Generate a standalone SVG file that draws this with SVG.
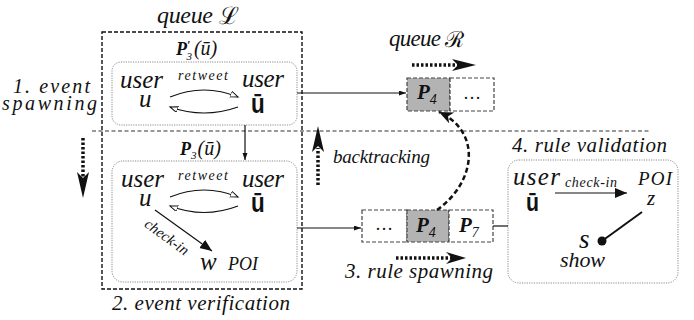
<svg xmlns="http://www.w3.org/2000/svg" width="694" height="320" viewBox="0 0 694 320">
<style>
.t{font-family:'Liberation Serif',serif;font-style:italic;fill:#111}
.r{font-family:'Liberation Serif',serif;font-style:normal;fill:#111}
.b{font-weight:bold}
.ub{font-family:'Liberation Sans',sans-serif;font-weight:bold;font-style:normal;fill:#111}
.outer{fill:none;stroke:#111;stroke-width:1.4;stroke-dasharray:4 2}
.inner{fill:#fff;stroke:#8a8a8a;stroke-width:1;stroke-dasharray:1.2 1.2}
.qbox{fill:#fff;stroke:#444;stroke-width:1.2;stroke-dasharray:4 2}
.gray{fill:#b3b3b3}
.sep{stroke:#333;stroke-width:1;stroke-dasharray:4 2.5}
.ln{fill:none;stroke:#111;stroke-width:1.2}
.dot{fill:none;stroke:#111;stroke-width:3.5;stroke-dasharray:2.5 2}
.dash{fill:none;stroke:#111;stroke-width:2.5;stroke-dasharray:5 3}
.head{fill:#111}
</style>
<defs>
<marker id="open" markerWidth="10" markerHeight="8" refX="8" refY="3" orient="auto" markerUnits="userSpaceOnUse"><path d="M0,0 L8,3 L0,6 Z" fill="#fff" stroke="#111" stroke-width="1"/></marker>
<marker id="tip" markerWidth="8" markerHeight="6" refX="7" refY="2.5" orient="auto" markerUnits="userSpaceOnUse"><path d="M0,0 L7,2.5 L0,5 Z" fill="#111"/></marker>
<marker id="big" markerWidth="14" markerHeight="12" refX="12" refY="5" orient="auto" markerUnits="userSpaceOnUse"><path d="M0,0 L12,5 L0,10 Z" fill="#111"/></marker>
<marker id="stealth" markerWidth="16" markerHeight="14" refX="14" refY="6" orient="auto" markerUnits="userSpaceOnUse"><path d="M0,0 L14,6 L0,12 L4,6 Z" fill="#111"/></marker>
</defs>

<line class="sep" x1="92" y1="131" x2="650" y2="131"/>

<g id="queueL">
  <rect class="outer" x="102" y="32" width="200" height="257"/>
  <text class="t" x="157" y="23" font-size="24" textLength="56">queue</text>
  <text class="r" x="219" y="24" font-size="24">ℒ</text>
</g>

<g id="eventSpawning">
  <text class="t" x="13" y="93" font-size="20" textLength="77">1. event</text>
  <text class="t" x="2" y="110" font-size="20" textLength="95">spawning</text>
  <line class="dot" x1="83" y1="138" x2="83" y2="178"/>
  <polygon class="head" points="77,172 83,198 89,172 83,178"/>
</g>

<g id="boxTop">
  <text class="t" x="176" y="55" font-size="18"><tspan class="b">P</tspan><tspan class="b" font-size="12" dy="-6">′</tspan><tspan font-size="11" dx="-4" dy="11">3</tspan><tspan dy="-5" dx="2" font-size="20">(ū)</tspan></text>
  <rect class="inner" x="112" y="62" width="185" height="63" rx="9"/>
  <text class="t" x="120" y="88" font-size="25" textLength="43">user</text>
  <text class="t" x="139" y="107" font-size="25">u</text>
  <text class="t" x="178" y="80" font-size="14" textLength="50">retweet</text>
  <text class="t" x="242" y="87" font-size="25" textLength="42">user</text>
  <text class="ub" transform="translate(251,113) scale(0.8,1)" font-size="28">ū</text>
</g>

<g id="boxBottom">
  <text class="t" x="180" y="155" font-size="18"><tspan class="b">P</tspan><tspan font-size="11" dy="4">3</tspan><tspan dy="-4" dx="1" font-size="20">(ū)</tspan></text>
  <rect class="inner" x="112" y="161" width="185" height="121" rx="11"/>
  <text class="t" x="121" y="187" font-size="25" textLength="43">user</text>
  <text class="t" x="139" y="206" font-size="25">u</text>
  <text class="t" x="178" y="180" font-size="14" textLength="50">retweet</text>
  <text class="t" x="242" y="187" font-size="25" textLength="42">user</text>
  <text class="ub" transform="translate(251,212) scale(0.8,1)" font-size="28">ū</text>
  <text class="t" font-size="15" text-anchor="middle" transform="translate(164,241) rotate(36)">check-in</text>
  <text class="t" x="200" y="270" font-size="25">w</text>
  <text class="t" x="228" y="270" font-size="18">POI</text>
  <text class="t" x="112" y="310" font-size="21" textLength="178">2. event verification</text>
</g>

<g id="queueR">
  <text class="t" x="389" y="46" font-size="23" textLength="52">queue</text>
  <text class="r" x="445" y="47" font-size="22">ℛ</text>
  <line class="dot" x1="412" y1="65" x2="458" y2="65"/>
  <polygon class="head" points="452,59 476,65 452,71 458,65"/>
  <rect class="qbox gray" x="407" y="78" width="43" height="33"/>
  <rect class="qbox" x="450" y="78" width="44" height="33"/>
  <text class="t b" x="417" y="99" font-size="21">P<tspan font-size="14" font-weight="normal" dy="5">4</tspan></text>
  <text class="r" x="472" y="99" font-size="18" text-anchor="middle">…</text>
</g>

<g id="backtracking">
  <line class="dot" x1="318" y1="185" x2="318" y2="148"/>
  <polygon class="head" points="312,152 318,126 324,152 318,146"/>
  <text class="t" x="333" y="163" font-size="19" textLength="97">backtracking</text>
</g>

<g id="ruleQueue">
  <rect class="qbox" x="362" y="210" width="45" height="32"/>
  <rect class="qbox gray" x="407" y="210" width="42" height="32"/>
  <rect class="qbox" x="449" y="210" width="44" height="32"/>
  <text class="r" x="384" y="230" font-size="18" text-anchor="middle">…</text>
  <text class="t b" x="416" y="232" font-size="21">P<tspan font-size="14" font-weight="normal" dy="5">4</tspan></text>
  <text class="t b" x="459" y="232" font-size="21">P<tspan font-size="14" font-weight="normal" dy="5">7</tspan></text>
  <line class="dot" x1="396" y1="258" x2="452" y2="258"/>
  <polygon class="head" points="446,252 466,258 446,264 452,258"/>
  <text class="t" x="345" y="278" font-size="21" textLength="148">3. rule spawning</text>
</g>

<g id="ruleValidation">
  <text class="t" x="512" y="152" font-size="21" textLength="155">4. rule validation</text>
  <rect class="inner" x="508" y="160" width="170" height="123" rx="11"/>
  <text class="t" x="513" y="185" font-size="25" textLength="47">user</text>
  <text class="ub" transform="translate(526,211) scale(0.85,1)" font-size="25">ū</text>
  <text class="t" x="565" y="187" font-size="14" textLength="52">check-in</text>
  <line class="ln" x1="555" y1="193" x2="627" y2="193" marker-end="url(#big)"/>
  <text class="t" x="638" y="185" font-size="19" textLength="34">POI</text>
  <text class="t" x="647" y="205" font-size="21">z</text>
  <line x1="642" y1="212" x2="602" y2="241" stroke="#111" stroke-width="2"/>
  <circle class="head" cx="602" cy="241" r="4.5"/>
  <text class="t" x="579" y="248" font-size="27">s</text>
  <text class="t" x="560" y="267" font-size="22" textLength="45">show</text>
</g>

<g id="connectors">
  <path class="ln" d="M170,97 Q204,83 238,97" marker-end="url(#open)"/>
  <path class="ln" d="M238,107 Q204,119 170,107" marker-end="url(#open)"/>
  <path class="ln" d="M170,197 Q204,183 238,197" marker-end="url(#open)"/>
  <path class="ln" d="M238,206 Q204,219 170,206" marker-end="url(#open)"/>
  <line class="ln" x1="155" y1="210" x2="212" y2="251" marker-end="url(#big)"/>
  <line class="ln" x1="245" y1="125" x2="245" y2="160" marker-end="url(#tip)"/>
  <line class="ln" x1="297" y1="93" x2="406" y2="93" marker-end="url(#tip)"/>
  <line class="ln" x1="297" y1="228" x2="361" y2="228" marker-end="url(#tip)"/>
  <line class="ln" x1="493" y1="226" x2="508" y2="226"/>
  <path class="dash" d="M437,210 C476,182 482,132 439,112" marker-end="url(#stealth)"/>
</g>
</svg>
